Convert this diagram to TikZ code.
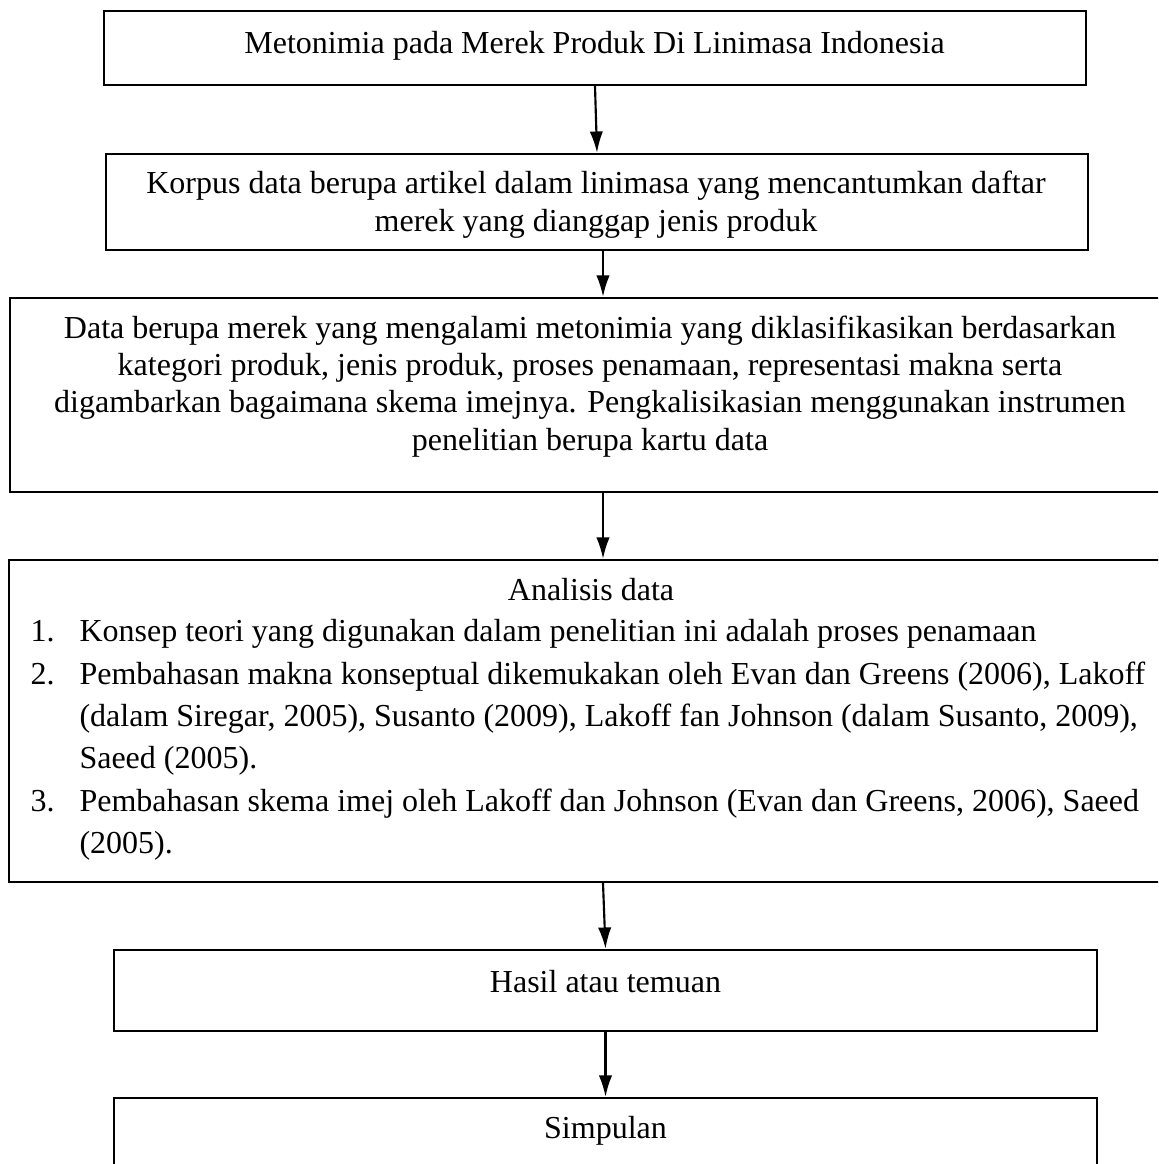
\documentclass[tikz,border=0pt]{standalone}
\usepackage{fontspec}
\setmainfont{Liberation Serif}
\usetikzlibrary{arrows.meta}
\def\u{0.375pt}
\tikzset{
  frame/.style={draw, line width=0.9pt, inner sep=0pt},
  txt/.style={inner sep=0pt, anchor=base, align=center, font=\fontsize{12}{14}\selectfont},
  itm/.style={inner sep=0pt, anchor=base west, align=left, font=\fontsize{12}{15.75}\selectfont},
  arr/.style={line width=0.8pt, -{Latex[length=8pt,width=5pt]}}
}
\begin{document}
\begin{tikzpicture}[x=0.375pt,y=-0.375pt]
	%%%%% START %%%%%
	\useasboundingbox (0,0) rectangle (1158,1164);
	\clip (0,0) rectangle (1158,1164);
	
	% base of a text node = baseline of its last line
	\node[frame, minimum width=982*\u, minimum height=74*\u] (b1) at (595,48) {};
	\node[txt] (t1) at (594.5,53) {Metonimia pada Merek Produk Di Linimasa Indonesia};
	
	\node[frame, minimum width=982*\u, minimum height=96*\u] (b2) at (597,202) {};
	\node[txt] (t2) at (596,231) {Korpus data berupa artikel dalam linimasa yang mencantumkan daftar\\merek yang dianggap jenis produk};
	
	\node[frame, minimum width=1186*\u, minimum height=194*\u] (b3) at (603,395) {};
	\node[txt] (t3) at (590,450) {Data berupa merek yang mengalami metonimia yang diklasifikasikan berdasarkan\\kategori produk, jenis produk, proses penamaan, representasi makna serta\\digambarkan bagaimana skema imejnya. Pengkalisikasian menggunakan instrumen\\penelitian berupa kartu data};
	
	\node[frame, minimum width=1188*\u, minimum height=322*\u] (b4) at (603,721) {};
	\node[txt] (t4) at (591,600) {Analisis data};
	\node[itm] (n1) at (30,641) {1.};
	\node[itm] (i1) at (79,641) {Konsep teori yang digunakan dalam penelitian ini adalah proses penamaan};
	\node[itm] (n2) at (30,684) {2.};
	\node[itm] (i2) at (79,768) {Pembahasan makna konseptual dikemukakan oleh Evan dan Greens (2006), Lakoff\\(dalam Siregar, 2005), Susanto (2009), Lakoff fan Johnson (dalam Susanto, 2009),\\Saeed (2005).};
	\node[itm] (n3) at (30,811) {3.};
	\node[itm] (i3) at (79,853) {Pembahasan skema imej oleh Lakoff dan Johnson (Evan dan Greens, 2006), Saeed\\(2005).};
	
	\node[frame, minimum width=983*\u, minimum height=81*\u] (b5) at (605.5,990.5) {};
	\node[txt] (t5) at (605.5,992) {Hasil atau temuan};
	
	\node[frame, minimum width=983*\u, minimum height=110*\u] (b6) at (605.5,1153) {};
	\node[txt] (t6) at (605.5,1138) {Simpulan};
	
	\draw[arr] (b1.south) -- (b2.north);
	\draw[arr] (b2.south -| b3.north) -- (b3.north);
	\draw[arr] (b3.south) -- (b4.north);
	\draw[arr] (b4.south) -- (b5.north);
	\draw[arr] (b5.south) -- (b6.north);
	%%%%% END %%%%%
\end{tikzpicture}
\end{document}
